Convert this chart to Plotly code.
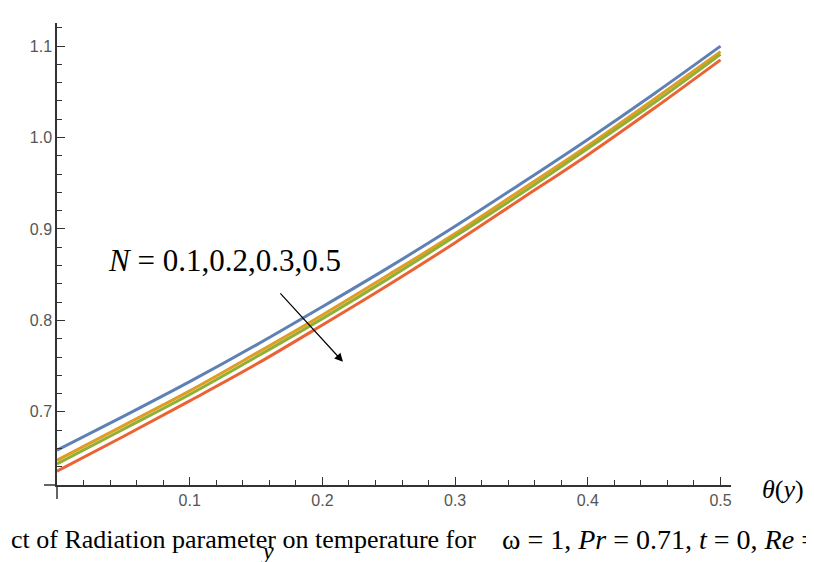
import plotly.graph_objects as go

# Data
y_pos = [0.0, 0.05, 0.10, 0.15, 0.20, 0.25, 0.30, 0.35, 0.40, 0.45, 0.50]
theta_N01 = [0.658, 0.695, 0.733, 0.773, 0.815, 0.858, 0.903, 0.950, 0.998, 1.048, 1.100]
theta_N02 = [0.647, 0.685, 0.723, 0.764, 0.806, 0.850, 0.895, 0.943, 0.991, 1.042, 1.094]
theta_N03 = [0.643, 0.681, 0.719, 0.760, 0.802, 0.846, 0.892, 0.939, 0.988, 1.038, 1.091]
theta_N05 = [0.635, 0.673, 0.712, 0.752, 0.795, 0.839, 0.885, 0.933, 0.981, 1.032, 1.085]
series_names = ["N = 0.1", "N = 0.2", "N = 0.3", "N = 0.5"]
series_colors = ["#5E81B5", "#E19C24", "#8FB032", "#EB6235"]

x_tickvals = [0.1, 0.2, 0.3, 0.4, 0.5]
x_ticktext = ["0.1", "0.2", "0.3", "0.4", "0.5"]
y_tickvals = [0.7, 0.8, 0.9, 1.0, 1.1]
y_ticktext = ["0.7", "0.8", "0.9", "1.0", "1.1"]

fig = go.Figure()
for name, vals, col in zip(series_names, [theta_N01, theta_N02, theta_N03, theta_N05], series_colors):
    fig.add_trace(go.Scatter(x=y_pos, y=vals, mode="lines", name=name,
                             line=dict(color=col, width=3, shape="spline")))

axis_col = "#333333"
tick_font = dict(family="Liberation Sans, Arial, sans-serif", size=16, color="#555555")

fig.update_xaxes(range=[0, 0.5079], showline=True, linecolor=axis_col, linewidth=1.5,
                 showgrid=False, zeroline=False, ticks="inside", ticklen=8, tickwidth=1.2,
                 tickcolor=axis_col, tickvals=x_tickvals, ticktext=x_ticktext,
                 tickfont=tick_font,
                 minor=dict(dtick=0.02, tick0=0, ticks="inside", ticklen=5, tickwidth=1,
                            tickcolor=axis_col, showgrid=False))
fig.update_yaxes(range=[0.62, 1.1253], showline=True, linecolor=axis_col, linewidth=1.5,
                 showgrid=False, zeroline=False, ticks="inside", ticklen=8, tickwidth=1.2,
                 tickcolor=axis_col, tickvals=y_tickvals, ticktext=y_ticktext,
                 tickfont=tick_font,
                 minor=dict(dtick=0.02, tick0=0, ticks="inside", ticklen=5, tickwidth=1,
                            tickcolor=axis_col, showgrid=False))

# axis overhangs (Mathematica-style crossing axes)
fig.add_shape(type="line", xref="paper", yref="paper", x0=-0.0193, x1=0, y0=0, y1=0,
              line=dict(color=axis_col, width=1.5))
fig.add_shape(type="line", xref="paper", yref="paper", x0=0, x1=0, y0=0, y1=-0.0303,
              line=dict(color=axis_col, width=1.5))

serif = "Liberation Serif, Times New Roman, serif"

fig.add_annotation(xref="paper", yref="paper", x=0.0727, y=0.487, xanchor="left", yanchor="middle",
                   text="<i>N</i> = 0.1,0.2,0.3,0.5", showarrow=False,
                   font=dict(family=serif, size=31, color="black"))
fig.add_annotation(xref="x", yref="y", x=0.2155, y=0.7547, ax=-64, ay=-70, text="",
                   showarrow=True, arrowhead=2, arrowsize=1.4, arrowwidth=1.2, arrowcolor="black")
fig.add_annotation(xref="paper", yref="paper", x=1.043, y=-0.0108, xanchor="left", yanchor="middle",
                   text="<i>θ</i>(<i>y</i>)", showarrow=False,
                   font=dict(family=serif, size=26, color="black"))
fig.add_annotation(xref="paper", yref="paper", x=-0.0712, y=-0.119, xanchor="left", yanchor="middle",
                   text="ct of Radiation parameter on temperature for", showarrow=False,
                   font=dict(family=serif, size=26, color="black"))
fig.add_annotation(xref="paper", yref="paper", x=0.657, y=-0.119, xanchor="left", yanchor="middle",
                   text="ω = 1, <i>Pr</i> = 0.71, <i>t</i> = 0, <i>Re</i> =", showarrow=False,
                   font=dict(family=serif, size=28, color="black"))
fig.add_annotation(xref="paper", yref="paper", x=0.312, y=-0.143, xanchor="center", yanchor="middle",
                   text="<i>y</i>", showarrow=False,
                   font=dict(family=serif, size=24, color="black"))

fig.update_layout(width=814, height=562, showlegend=False,
                  margin=dict(l=49, r=91, t=15, b=85),
                  paper_bgcolor="white", plot_bgcolor="white")

fig.write_html("out.html")
